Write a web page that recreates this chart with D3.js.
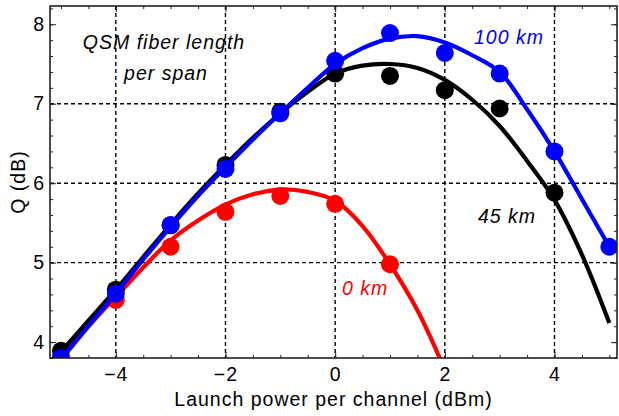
<!DOCTYPE html>
<html>
<head>
<meta charset="utf-8">
<script src="https://cdn.jsdelivr.net/npm/d3@7"></script>
<style>
  body { margin: 0; background: #fff; }
  text { font-family: "Liberation Sans", Arial, sans-serif; }
</style>
</head>
<body>
<div id="wrapper"></div>
<script>
// 1. Access data
const powerPts = [-5, -4, -3, -2, -1, 0, 1, 2, 3, 4, 5]

const q0km = [3.80, 4.53, 5.20, 5.64, 5.84, 5.74, 4.98]
const q45km = [3.89, 4.66, 5.47, 6.23, 6.90, 7.38, 7.35, 7.17, 6.94, 5.88]
const q100km = [3.80, 4.61, 5.475, 6.18, 6.88, 7.54, 7.89, 7.64, 7.38, 6.40, 5.20]

const fitPower = [-5, -4.5, -4, -3.5, -3, -2.5, -2, -1.5, -1, -0.5, 0, 0.5, 1, 1.5, 2, 2.5, 3, 3.5, 4, 4.5, 5]
const fit0km = [3.82, 4.20, 4.57, 4.94, 5.28, 5.53, 5.73, 5.86, 5.92, 5.89, 5.78, 5.46, 4.98, 4.40, 3.65]
const fit45km = [3.88, 4.27, 4.66, 5.07, 5.48, 5.87, 6.23, 6.57, 6.88, 7.15, 7.38, 7.48, 7.50, 7.45, 7.30, 7.05, 6.72, 6.28, 5.79, 5.10, 4.24]
const fit100km = [3.78, 4.20, 4.61, 5.04, 5.45, 5.84, 6.20, 6.55, 6.88, 7.20, 7.50, 7.70, 7.82, 7.85, 7.77, 7.61, 7.40, 6.93, 6.40, 5.80, 5.20]

const xTicks = [-4, -2, 0, 2, 4]
const yTicks = [4, 5, 6, 7, 8]
const xGrid = [-4, -2, 0, 2, 4]
const yGrid = [5, 6, 7]

const series = [
    { label: "0 km", color: "#ff0000", pts: q0km, fit: fit0km, lx: 342, ly: 295 },
    { label: "45 km", color: "#000000", pts: q45km, fit: fit45km, lx: 478, ly: 223 },
    { label: "100 km", color: "#0000ff", pts: q100km, fit: fit100km, lx: 474, ly: 44 },
]

// 2. Create chart dimensions
let dimensions = {
    width: 619,
    height: 416,
    margin: { top: 6, right: 2, bottom: 58, left: 50 },
}
dimensions.boundedWidth = dimensions.width - dimensions.margin.left - dimensions.margin.right
dimensions.boundedHeight = dimensions.height - dimensions.margin.top - dimensions.margin.bottom

// 3. Draw canvas
const wrapper = d3.select("#wrapper")
    .append("svg")
    .attr("width", dimensions.width)
    .attr("height", dimensions.height)

const bounds = wrapper.append("g")
    .attr("transform", `translate(${dimensions.margin.left},${dimensions.margin.top})`)

bounds.append("clipPath")
    .attr("id", "plot-clip")
    .append("rect")
    .attr("width", dimensions.boundedWidth)
    .attr("height", dimensions.boundedHeight)

// 4. Create scales
const xScale = d3.scaleLinear()
    .domain([-5.2, 5.14])
    .range([0, dimensions.boundedWidth])

const yScale = d3.scaleLinear()
    .domain([3.8, 8.23])
    .range([dimensions.boundedHeight, 0])

// grid
const grid = bounds.append("g")
    .attr("stroke", "#000")
    .attr("stroke-width", 1.4)
    .attr("stroke-dasharray", "4,3")

grid.selectAll(".vgrid")
    .data(xGrid)
    .join("line")
    .attr("x1", d => xScale(d))
    .attr("x2", d => xScale(d))
    .attr("y1", 0)
    .attr("y2", dimensions.boundedHeight)

grid.selectAll(".hgrid")
    .data(yGrid)
    .join("line")
    .attr("class", "hgrid")
    .attr("x1", 0)
    .attr("x2", dimensions.boundedWidth)
    .attr("y1", d => yScale(d))
    .attr("y2", d => yScale(d))

// 5. Draw data
const plot = bounds.append("g")
    .attr("clip-path", "url(#plot-clip)")

const lineGenerator = d3.line()
    .x(d => xScale(d[0]))
    .y(d => yScale(d[1]))
    .curve(d3.curveCatmullRom)

series.forEach(s => {
    const fitData = s.fit.map((q, i) => [fitPower[i], q])
    plot.append("path")
        .attr("d", lineGenerator(fitData))
        .attr("fill", "none")
        .attr("stroke", s.color)
        .attr("stroke-width", 4.2)

    plot.append("g")
        .selectAll("circle")
        .data(s.pts.map((q, i) => [powerPts[i], q]))
        .join("circle")
        .attr("cx", d => xScale(d[0]))
        .attr("cy", d => yScale(d[1]))
        .attr("r", 9)
        .attr("fill", s.color)
})

// 6. Draw peripherals
const minorX = d3.range(-5, 5.01, 0.5)
const minorY = d3.range(3.8, 8.21, 0.2)

const styleAxis = g => {
    g.select(".domain").remove()
    g.selectAll("line").attr("stroke", "#222").attr("stroke-width", 1)
    g.selectAll("text")
        .attr("font-size", 19.5)
        .attr("letter-spacing", 1)
        .attr("fill", "#000")
}
const fmt = d => d < 0 ? "\u2212" + Math.abs(d) : "" + d

// bottom
bounds.append("g")
    .attr("transform", `translate(0,${dimensions.boundedHeight})`)
    .call(d3.axisBottom(xScale).tickValues(minorX).tickSize(-3).tickFormat(""))
    .call(styleAxis)
bounds.append("g")
    .attr("transform", `translate(0,${dimensions.boundedHeight})`)
    .call(d3.axisBottom(xScale).tickValues(xTicks).tickSize(-6).tickPadding(9).tickFormat(fmt))
    .call(styleAxis)
// top
bounds.append("g")
    .call(d3.axisTop(xScale).tickValues(minorX).tickSize(-3).tickFormat(""))
    .call(styleAxis)
bounds.append("g")
    .call(d3.axisTop(xScale).tickValues(xTicks).tickSize(-6).tickFormat(""))
    .call(styleAxis)
// left
bounds.append("g")
    .call(d3.axisLeft(yScale).tickValues(minorY).tickSize(-3).tickFormat(""))
    .call(styleAxis)
bounds.append("g")
    .call(d3.axisLeft(yScale).tickValues(yTicks).tickSize(-6).tickPadding(5).tickFormat(fmt))
    .call(styleAxis)
// right
bounds.append("g")
    .attr("transform", `translate(${dimensions.boundedWidth},0)`)
    .call(d3.axisRight(yScale).tickValues(minorY).tickSize(-3).tickFormat(""))
    .call(styleAxis)
bounds.append("g")
    .attr("transform", `translate(${dimensions.boundedWidth},0)`)
    .call(d3.axisRight(yScale).tickValues(yTicks).tickSize(-6).tickFormat(""))
    .call(styleAxis)

// frame
bounds.append("rect")
    .attr("width", dimensions.boundedWidth)
    .attr("height", dimensions.boundedHeight)
    .attr("fill", "none")
    .attr("stroke", "#222")
    .attr("stroke-width", 1.6)

// axis labels
wrapper.append("text")
    .attr("x", 333.5)
    .attr("y", 406)
    .attr("text-anchor", "middle")
    .attr("font-size", 19.5)
    .attr("letter-spacing", 1)
    .text("Launch power per channel (dBm)")

wrapper.append("text")
    .attr("transform", "translate(24.5,182) rotate(-90)")
    .attr("text-anchor", "middle")
    .attr("font-size", 19.5)
    .attr("letter-spacing", 1)
    .text("Q  (dB)")

// annotations
const note = wrapper.append("g")
    .attr("font-size", 19.5)
    .attr("font-style", "italic")
    .attr("letter-spacing", 1)
    .attr("text-anchor", "middle")
note.append("text").attr("x", 164).attr("y", 49).text("QSM fiber length")
note.append("text").attr("x", 166).attr("y", 80).text("per span")

wrapper.append("g")
    .selectAll("text")
    .data(series)
    .join("text")
    .attr("x", d => d.lx)
    .attr("y", d => d.ly)
    .attr("font-size", 19.5)
    .attr("font-style", "italic")
    .attr("letter-spacing", 1)
    .attr("fill", d => d.color)
    .text(d => d.label)
</script>
</body>
</html>
